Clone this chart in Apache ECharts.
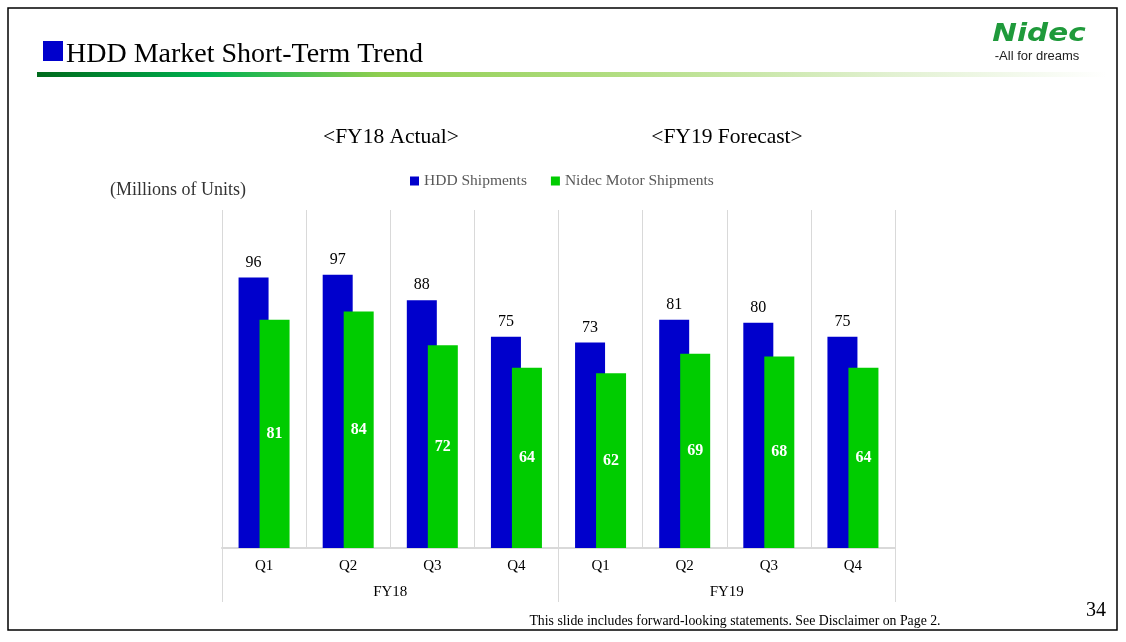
<!DOCTYPE html>
<html>
<head>
<meta charset="utf-8">
<script src="https://cdn.jsdelivr.net/npm/echarts@6/dist/echarts.min.js"></script>
<style>
html,body{margin:0;padding:0;background:#fff;}
#chart{width:1126px;height:642px;}
</style>
</head>
<body>
<div id="chart"></div>
<script>
const quarters = ['Q1','Q2','Q3','Q4','Q1','Q2','Q3','Q4'];
const fiscalYears = ['FY18','FY19'];
const hddShipments = [96, 97, 88, 75, 73, 81, 80, 75];
const nidecMotorShipments = [81, 84, 72, 64, 62, 69, 68, 64];
const seriesNames = ['HDD Shipments', 'Nidec Motor Shipments'];

const serif = "'Times New Roman', 'Liberation Serif', serif";
const chart = echarts.init(document.getElementById('chart'));

chart.setOption({
  backgroundColor: '#ffffff',
  animation: false,
  textStyle: { fontFamily: serif },
  grid: { left: 222, right: 231, top: 210, bottom: 94, containLabel: false },
  legend: {
    data: seriesNames,
    left: 405, top: 168,
    itemWidth: 9, itemHeight: 9, itemGap: 24,
    icon: 'rect',
    textStyle: { fontFamily: serif, fontSize: 15.5, color: '#595959' }
  },
  xAxis: [
    {
      type: 'category', data: quarters, position: 'bottom',
      axisLine: { show: true, lineStyle: { color: '#d9d9d9', width: 2 } },
      axisTick: { show: false },
      axisLabel: { color: '#000', fontSize: 15, fontFamily: serif, margin: 11 },
      splitLine: { show: true, lineStyle: { color: '#d9d9d9', width: 1 } }
    },
    {
      type: 'category', data: fiscalYears, position: 'bottom',
      axisLine: { show: false },
      axisTick: { show: true, length: 54, lineStyle: { color: '#d9d9d9', width: 1 } },
      axisLabel: { color: '#000', fontSize: 15, fontFamily: serif, margin: 37 },
      splitLine: { show: false }
    }
  ],
  yAxis: {
    type: 'value', min: 0, max: 120,
    show: false
  },
  series: [
    {
      name: seriesNames[0], type: 'bar', data: hddShipments,
      xAxisIndex: 0, barWidth: 30, barGap: '-30%',
      itemStyle: { color: '#0000cc' },
      label: { show: true, position: 'top', distance: 7, color: '#000', fontSize: 16, fontFamily: serif }
    },
    {
      name: seriesNames[1], type: 'bar', data: nidecMotorShipments,
      xAxisIndex: 0, barWidth: 30, barGap: '-30%',
      itemStyle: { color: '#00cc00' },
      label: { show: true, position: 'inside', color: '#fff', fontSize: 16, fontWeight: 'bold', fontFamily: serif }
    }
  ],
  graphic: [
    { type: 'rect', shape: { x: 8, y: 8, width: 1109, height: 622 }, style: { fill: 'none', stroke: '#000', lineWidth: 1.5 }, silent: true },
    { type: 'rect', shape: { x: 43, y: 41, width: 20, height: 20 }, style: { fill: '#0000cc' } },
    { type: 'text', x: 66, y: 55, style: { text: 'HDD Market Short-Term Trend', font: "28px 'Times New Roman', 'Liberation Serif', serif", fill: '#000', textVerticalAlign: 'middle' } },
    { type: 'rect', shape: { x: 37, y: 72, width: 1070, height: 5 },
      style: { fill: new echarts.graphic.LinearGradient(0, 0, 1, 0, [
        { offset: 0, color: '#006a1c' },
        { offset: 0.16, color: '#00b050' },
        { offset: 0.32, color: '#8fce50' },
        { offset: 0.55, color: '#b3de84' },
        { offset: 0.8, color: '#e2f1d2' },
        { offset: 1, color: '#ffffff' }
      ]) } },
    { type: 'text', x: 1039, y: 34, scaleX: 1.18, originX: 0, originY: 0, style: { text: 'Nidec', font: "italic 900 25px 'DejaVu Sans', sans-serif", fill: '#1f9a3b', textAlign: 'center', textVerticalAlign: 'middle' } },
    { type: 'text', x: 1037, y: 56, style: { text: '-All for dreams', font: "13px 'Liberation Sans', Arial, sans-serif", fill: '#222', textAlign: 'center', textVerticalAlign: 'middle' } },
    { type: 'text', x: 391, y: 137, style: { text: '<FY18 Actual>', font: "21.5px 'Times New Roman', 'Liberation Serif', serif", fill: '#000', textAlign: 'center', textVerticalAlign: 'middle' } },
    { type: 'text', x: 727, y: 137, style: { text: '<FY19 Forecast>', font: "21.5px 'Times New Roman', 'Liberation Serif', serif", fill: '#000', textAlign: 'center', textVerticalAlign: 'middle' } },
    { type: 'text', x: 178, y: 190, style: { text: '(Millions of Units)', font: "18px 'Times New Roman', 'Liberation Serif', serif", fill: '#333', textAlign: 'center', textVerticalAlign: 'middle' } },
    { type: 'text', x: 735, y: 621, style: { text: 'This slide includes forward-looking statements. See Disclaimer on Page 2.', font: "13.8px 'Times New Roman', 'Liberation Serif', serif", fill: '#000', textAlign: 'center', textVerticalAlign: 'middle' } },
    { type: 'text', x: 1096, y: 611, style: { text: '34', font: "20px 'Times New Roman', 'Liberation Serif', serif", fill: '#000', textAlign: 'center', textVerticalAlign: 'middle' } }
  ]
});
</script>
</body>
</html>
